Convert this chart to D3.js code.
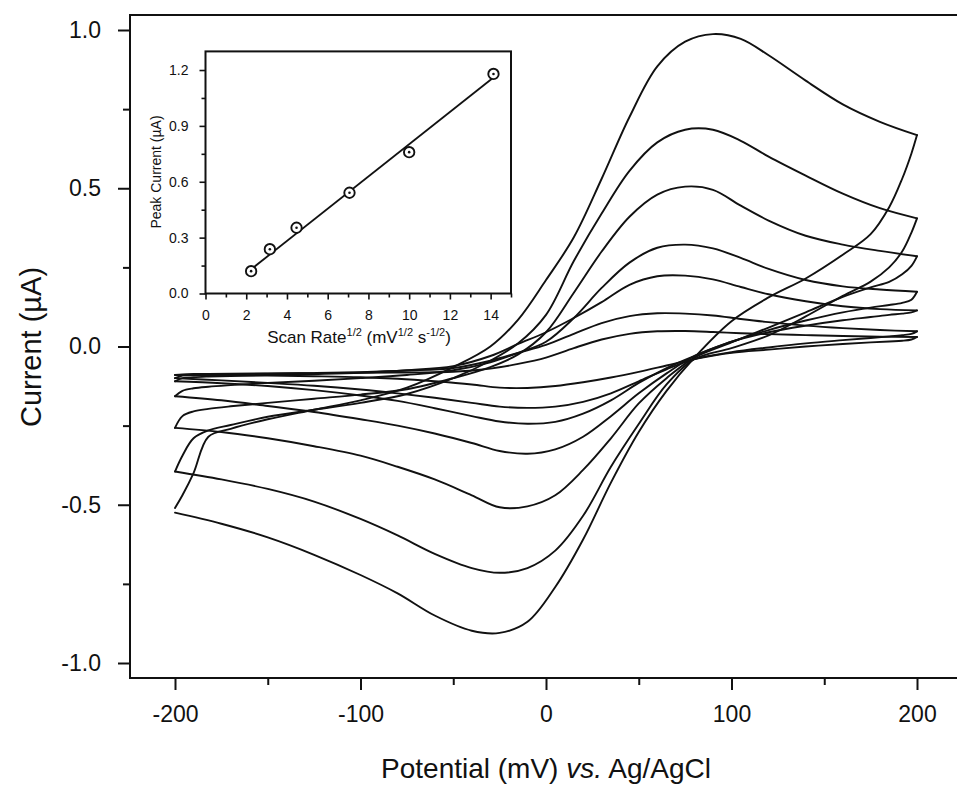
<!DOCTYPE html>
<html>
<head>
<meta charset="utf-8">
<script src="https://cdn.jsdelivr.net/npm/d3@7"></script>
<style>
body { margin: 0; background: #fff; }
svg { display: block; font-family: "Liberation Sans", Arial, Helvetica, sans-serif; }
</style>
</head>
<body>
<svg id="chart" width="957" height="785"></svg>
<script>
// potential grid (mV) for forward (anodic) and reverse (cathodic) sweeps
var potentialFwd = [-200, -196, -190, -182, -170, -150, -125, -100, -75, -50, -30, -15, 0, 15, 30, 45, 60, 75, 90, 105, 120, 140, 160, 180, 200];
var potentialRev = [200, 197, 192, 185, 175, 160, 140, 120, 100, 80, 65, 50, 35, 20, 5, -10, -25, -40, -60, -80, -100, -125, -150, -175, -200];

// current (uA), largest scan first
var fwd1 = [-0.51, -0.47, -0.40, -0.285, -0.26, -0.23, -0.20, -0.17, -0.13, -0.065, 0.0, 0.085, 0.21, 0.345, 0.53, 0.725, 0.885, 0.963, 0.987, 0.972, 0.92, 0.84, 0.765, 0.71, 0.668];
var rev1 = [0.668, 0.61, 0.53, 0.44, 0.355, 0.29, 0.215, 0.155, 0.08, -0.035, -0.14, -0.27, -0.43, -0.61, -0.76, -0.87, -0.905, -0.898, -0.85, -0.78, -0.722, -0.658, -0.603, -0.56, -0.525];
var fwd2 = [-0.395, -0.345, -0.29, -0.265, -0.248, -0.222, -0.2, -0.178, -0.15, -0.10, -0.045, 0.01, 0.1, 0.27, 0.42, 0.555, 0.645, 0.685, 0.685, 0.65, 0.6, 0.54, 0.483, 0.437, 0.405];
var rev2 = [0.405, 0.36, 0.30, 0.25, 0.205, 0.16, 0.095, 0.035, -0.005, -0.04, -0.12, -0.245, -0.38, -0.535, -0.645, -0.70, -0.715, -0.70, -0.655, -0.597, -0.545, -0.49, -0.45, -0.42, -0.395];
var fwd3 = [-0.257, -0.22, -0.205, -0.197, -0.189, -0.178, -0.165, -0.152, -0.135, -0.10, -0.065, -0.025, 0.045, 0.17, 0.30, 0.41, 0.48, 0.505, 0.495, 0.445, 0.398, 0.35, 0.322, 0.302, 0.285];
var rev3 = [0.285, 0.255, 0.228, 0.204, 0.187, 0.157, 0.108, 0.06, 0.013, -0.035, -0.10, -0.18, -0.29, -0.39, -0.47, -0.505, -0.508, -0.47, -0.42, -0.38, -0.345, -0.315, -0.29, -0.27, -0.257];
var fwd4 = [-0.157, -0.14, -0.132, -0.127, -0.122, -0.115, -0.108, -0.1, -0.09, -0.075, -0.05, -0.02, 0.015, 0.09, 0.185, 0.265, 0.312, 0.322, 0.31, 0.28, 0.245, 0.21, 0.19, 0.18, 0.173];
var rev4 = [0.173, 0.148, 0.138, 0.131, 0.123, 0.108, 0.082, 0.052, 0.015, -0.03, -0.085, -0.148, -0.22, -0.285, -0.325, -0.339, -0.33, -0.305, -0.275, -0.25, -0.23, -0.207, -0.188, -0.17, -0.157];
var fwd5 = [-0.11, -0.1, -0.097, -0.095, -0.093, -0.09, -0.087, -0.083, -0.075, -0.062, -0.03, 0.008, 0.045, 0.09, 0.14, 0.195, 0.222, 0.224, 0.212, 0.188, 0.165, 0.143, 0.127, 0.118, 0.114];
var rev5 = [0.114, 0.108, 0.104, 0.10, 0.093, 0.083, 0.066, 0.045, 0.015, -0.03, -0.068, -0.115, -0.17, -0.212, -0.238, -0.244, -0.237, -0.22, -0.195, -0.172, -0.155, -0.138, -0.125, -0.116, -0.11];
var fwd6 = [-0.1, -0.092, -0.09, -0.089, -0.088, -0.086, -0.084, -0.081, -0.076, -0.068, -0.045, -0.02, 0.005, 0.04, 0.074, 0.096, 0.105, 0.104, 0.098, 0.087, 0.077, 0.066, 0.058, 0.052, 0.048];
var rev6 = [0.048, 0.04, 0.036, 0.032, 0.027, 0.02, 0.01, -0.003, -0.018, -0.04, -0.072, -0.11, -0.148, -0.175, -0.19, -0.194, -0.19, -0.178, -0.162, -0.148, -0.136, -0.124, -0.115, -0.107, -0.1];
var fwd7 = [-0.09, -0.088, -0.087, -0.087, -0.086, -0.085, -0.084, -0.083, -0.082, -0.08, -0.07, -0.055, -0.035, -0.005, 0.022, 0.04, 0.048, 0.049, 0.046, 0.042, 0.039, 0.036, 0.033, 0.031, 0.03];
var rev7 = [0.03, 0.022, 0.018, 0.016, 0.013, 0.008, 0.0, -0.01, -0.02, -0.04, -0.06, -0.08, -0.098, -0.113, -0.125, -0.131, -0.13, -0.12, -0.11, -0.102, -0.097, -0.094, -0.092, -0.091, -0.09];

// inset: peak current vs square root of scan rate
var scanRateRoot = [2.24, 3.16, 4.47, 7.07, 10.0, 14.14];
var peakCurrent = [0.12, 0.238, 0.353, 0.541, 0.759, 1.179];
var fitRoot = [2.24, 14.14];
var fitCurrent = [0.13, 1.16];

var xTickVals = [-200, -100, 0, 100, 200];
var yTickVals = [-1.0, -0.5, 0.0, 0.5, 1.0];
var insetXTickVals = [0, 2, 4, 6, 8, 10, 12, 14];
var insetYTickVals = [0.0, 0.3, 0.6, 0.9, 1.2];

var svg = d3.select("#chart");

var frame = {left: 130, right: 959, top: 15, bottom: 678};
var x = d3.scaleLinear().domain([-200, 200]).range([175, 917]);
var y = d3.scaleLinear().domain([-1, 1]).range([663, 30]);

var scans = [[fwd1, rev1], [fwd2, rev2], [fwd3, rev3], [fwd4, rev4], [fwd5, rev5], [fwd6, rev6], [fwd7, rev7]];

var line = d3.line()
    .x(function(d) { return x(d[0]); })
    .y(function(d) { return y(d[1]); })
    .curve(d3.curveCatmullRom.alpha(0.5));

var curves = svg.append("g");
scans.forEach(function(s) {
    var f = potentialFwd.map(function(p, i) { return [p, s[0][i]]; });
    var r = potentialRev.map(function(p, i) { return [p, s[1][i]]; });
    [f, r].forEach(function(pts) {
        curves.append("path")
            .attr("d", line(pts))
            .style("fill", "none")
            .style("stroke", "#111")
            .style("stroke-width", 1.9)
            .style("stroke-linecap", "round")
            .style("stroke-linejoin", "round");
    });
});

// main frame
svg.append("path")
    .attr("d", "M" + frame.right + "," + frame.top + "H" + frame.left + "V" + frame.bottom + "H" + frame.right)
    .style("fill", "none").style("stroke", "#111").style("stroke-width", 2);

// x axis
var xAxis = svg.append("g").attr("transform", "translate(0," + frame.bottom + ")");
xAxis.call(d3.axisBottom(x).tickValues(xTickVals).tickSize(12).tickPadding(16)
    .tickFormat(function(d) { return d; }));
xAxis.append("g").call(d3.axisBottom(x).tickValues(d3.range(-150, 200, 100)).tickSize(7).tickFormat(""));
// y axis
var yAxis = svg.append("g").attr("transform", "translate(" + frame.left + ",0)");
yAxis.call(d3.axisLeft(y).tickValues(yTickVals).tickSize(12).tickPadding(17)
    .tickFormat(function(d) { return d.toFixed(1); }));
yAxis.append("g").call(d3.axisLeft(y).tickValues([-0.75, -0.25, 0.25, 0.75]).tickSize(7).tickFormat(""));

svg.selectAll(".domain").remove();
xAxis.selectAll("line").style("stroke", "#111").style("stroke-width", 2);
yAxis.selectAll("line").style("stroke", "#111").style("stroke-width", 2);
xAxis.selectAll("text").style("font-size", "23px").style("fill", "#111");
yAxis.selectAll("text").style("font-size", "23px").style("fill", "#111");

var xt = svg.append("text")
    .attr("x", 546).attr("y", 778)
    .attr("text-anchor", "middle")
    .style("font-size", "28px").style("fill", "#111");
xt.append("tspan").text("Potential (mV) ");
xt.append("tspan").style("font-style", "italic").text("vs.");
xt.append("tspan").text(" Ag/AgCl");

svg.append("text")
    .attr("transform", "translate(41,347) rotate(-90)")
    .attr("text-anchor", "middle")
    .style("font-size", "29px").style("fill", "#111")
    .text("Current (\u00b5A)");

// inset
var xi = d3.scaleLinear().domain([0, 15]).range([205.5, 511]);
var yi = d3.scaleLinear().domain([0, 1.3]).range([293.5, 51.4]);
var inset = svg.append("g");

inset.append("rect")
    .attr("x", xi(0)).attr("y", yi(1.3))
    .attr("width", xi(15) - xi(0)).attr("height", yi(0) - yi(1.3))
    .style("fill", "#fff").style("stroke", "#111").style("stroke-width", 2);

var ixAxis = inset.append("g").attr("transform", "translate(0," + yi(0) + ")");
ixAxis.call(d3.axisBottom(xi).tickValues(insetXTickVals).tickSize(6).tickPadding(11));
ixAxis.append("g").call(d3.axisBottom(xi).tickValues(d3.range(1, 16, 2)).tickSize(4).tickFormat(""));
var iyAxis = inset.append("g").attr("transform", "translate(" + xi(0) + ",0)");
iyAxis.call(d3.axisLeft(yi).tickValues(insetYTickVals).tickSize(6).tickPadding(11)
    .tickFormat(function(d) { return d.toFixed(1); }));
iyAxis.append("g").call(d3.axisLeft(yi).tickValues([0.15, 0.45, 0.75, 1.05]).tickSize(4).tickFormat(""));
inset.selectAll(".domain").remove();
inset.selectAll(".tick line").style("stroke", "#111").style("stroke-width", 1.6);
inset.selectAll(".tick text").style("font-size", "14px").style("fill", "#111");

var fitLine = d3.line()
    .x(function(d) { return xi(d[0]); })
    .y(function(d) { return yi(d[1]); });
inset.append("path")
    .attr("d", fitLine(fitRoot.map(function(v, i) { return [v, fitCurrent[i]]; })))
    .style("fill", "none").style("stroke", "#111").style("stroke-width", 1.8);

var pts = inset.selectAll(".pt")
    .data(scanRateRoot.map(function(v, i) { return [v, peakCurrent[i]]; }))
    .enter().append("g")
    .attr("transform", function(d) { return "translate(" + xi(d[0]) + "," + yi(d[1]) + ")"; });
pts.append("circle").attr("r", 5.2).style("fill", "#fff").style("stroke", "#111").style("stroke-width", 1.9);
pts.append("circle").attr("r", 1.3).style("fill", "#111");

var ixt = inset.append("text")
    .attr("x", 359).attr("y", 343)
    .attr("text-anchor", "middle")
    .style("font-size", "17px").style("fill", "#111");
ixt.append("tspan").text("Scan Rate");
ixt.append("tspan").attr("dy", -7).style("font-size", "11px").text("1/2");
ixt.append("tspan").attr("dy", 7).text(" (mV");
ixt.append("tspan").attr("dy", -7).style("font-size", "11px").text("1/2");
ixt.append("tspan").attr("dy", 7).text(" s");
ixt.append("tspan").attr("dy", -7).style("font-size", "11px").text("-1/2");
ixt.append("tspan").attr("dy", 7).text(")");

inset.append("text")
    .attr("transform", "translate(161,172) rotate(-90)")
    .attr("text-anchor", "middle")
    .style("font-size", "14px").style("fill", "#111")
    .text("Peak Current (\u00b5A)");
</script>
</body>
</html>
